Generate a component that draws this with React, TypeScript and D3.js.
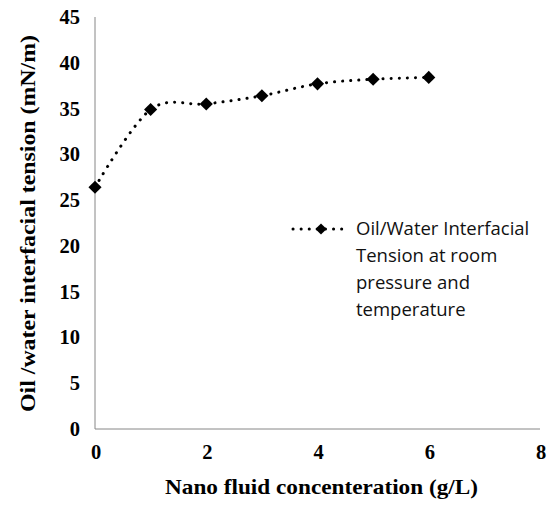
import * as d3 from "d3";
import { useEffect, useRef } from "react";

const concentration = [0, 1, 2, 3, 4, 5, 6];
const tension = [26.4, 34.9, 35.5, 36.4, 37.7, 38.2, 38.4];
const xTicks = [0, 2, 4, 6, 8];
const yTicks = [0, 5, 10, 15, 20, 25, 30, 35, 40, 45];
const legendLines = [
  "Oil/Water Interfacial",
  "Tension at room",
  "pressure and",
  "temperature",
];

function App() {
  const ref = useRef<SVGSVGElement | null>(null);

  useEffect(() => {
    const svg = d3.select(ref.current);
    svg.selectAll("*").remove();

    const x = d3.scaleLinear().domain([0, 8]).range([95, 540]);
    const y = d3.scaleLinear().domain([0, 45]).range([429, 17]);
    const serif = "'Liberation Serif', 'Times New Roman', serif";

    svg
      .append("rect")
      .attr("width", 555)
      .attr("height", 505)
      .attr("fill", "#fff");

    // axes, no tick marks
    svg
      .append("line")
      .attr("x1", x(0))
      .attr("x2", x(0))
      .attr("y1", y(45))
      .attr("y2", y(0))
      .attr("stroke", "#868686")
      .attr("stroke-width", 1);
    svg
      .append("line")
      .attr("x1", x(0))
      .attr("x2", x(8))
      .attr("y1", y(0))
      .attr("y2", y(0))
      .attr("stroke", "#868686")
      .attr("stroke-width", 1);

    svg
      .selectAll(".ytick")
      .data(yTicks)
      .join("text")
      .attr("class", "ytick")
      .attr("x", 80)
      .attr("y", (d) => y(d) + 7)
      .attr("text-anchor", "end")
      .attr("font-family", serif)
      .attr("font-weight", "bold")
      .attr("font-size", 20.5)
      .text((d) => d);

    svg
      .selectAll(".xtick")
      .data(xTicks)
      .join("text")
      .attr("class", "xtick")
      .attr("x", (d) => x(d) + 1)
      .attr("y", 459)
      .attr("text-anchor", "middle")
      .attr("font-family", serif)
      .attr("font-weight", "bold")
      .attr("font-size", 20.5)
      .text((d) => d);

    svg
      .append("text")
      .attr("x", 165)
      .attr("y", 494)
      .attr("textLength", 313)
      .attr("lengthAdjust", "spacingAndGlyphs")
      .attr("font-family", serif)
      .attr("font-weight", "bold")
      .attr("font-size", 21)
      .text("Nano fluid concenteration (g/L)");

    svg
      .append("text")
      .attr("transform", "translate(35, 412) rotate(-90)")
      .attr("textLength", 377)
      .attr("lengthAdjust", "spacingAndGlyphs")
      .attr("font-family", serif)
      .attr("font-weight", "bold")
      .attr("font-size", 21)
      .text("Oil /water interfacial tension (mN/m)");

    const pts = concentration.map((c, i) => [c, tension[i]] as [number, number]);
    const line = d3
      .line<[number, number]>()
      .x((d) => x(d[0]))
      .y((d) => y(d[1]))
      .curve(d3.curveCatmullRom.alpha(0));

    svg
      .append("path")
      .attr("d", line(pts))
      .attr("fill", "none")
      .attr("stroke", "#000")
      .attr("stroke-width", 3)
      .attr("stroke-linecap", "round")
      .attr("stroke-dasharray", "0.1 8");

    const diamond = d3.symbol().type(d3.symbolDiamond2).size(110);
    svg
      .selectAll(".marker")
      .data(pts)
      .join("path")
      .attr("class", "marker")
      .attr("transform", (d) => `translate(${x(d[0])},${y(d[1])})`)
      .attr("d", diamond())
      .attr("fill", "#000");

    // legend
    const lg = svg.append("g").attr("transform", "translate(0,229)");
    lg.append("line")
      .attr("x1", 293)
      .attr("x2", 347)
      .attr("y1", 0)
      .attr("y2", 0)
      .attr("stroke", "#000")
      .attr("stroke-width", 3)
      .attr("stroke-linecap", "round")
      .attr("stroke-dasharray", "0.1 8");
    lg.append("path")
      .attr("transform", "translate(321,0)")
      .attr("d", d3.symbol().type(d3.symbolDiamond2).size(80)())
      .attr("fill", "#000");
    lg.selectAll(".lt")
      .data(legendLines)
      .join("text")
      .attr("class", "lt")
      .attr("x", 356)
      .attr("y", (_, i) => i * 26.7)
      .attr("dy", "0.35em")
      .attr("font-family", "'Open Sans', sans-serif")
      .attr("font-size", 18.5)
      .attr("fill", "#111")
      .text((d) => d);
  }, []);

  return (
    <svg
      ref={ref}
      width={555}
      height={505}
      style={{ position: "absolute", left: 0, top: 0, display: "block" }}
    ></svg>
  );
}

export default App;
